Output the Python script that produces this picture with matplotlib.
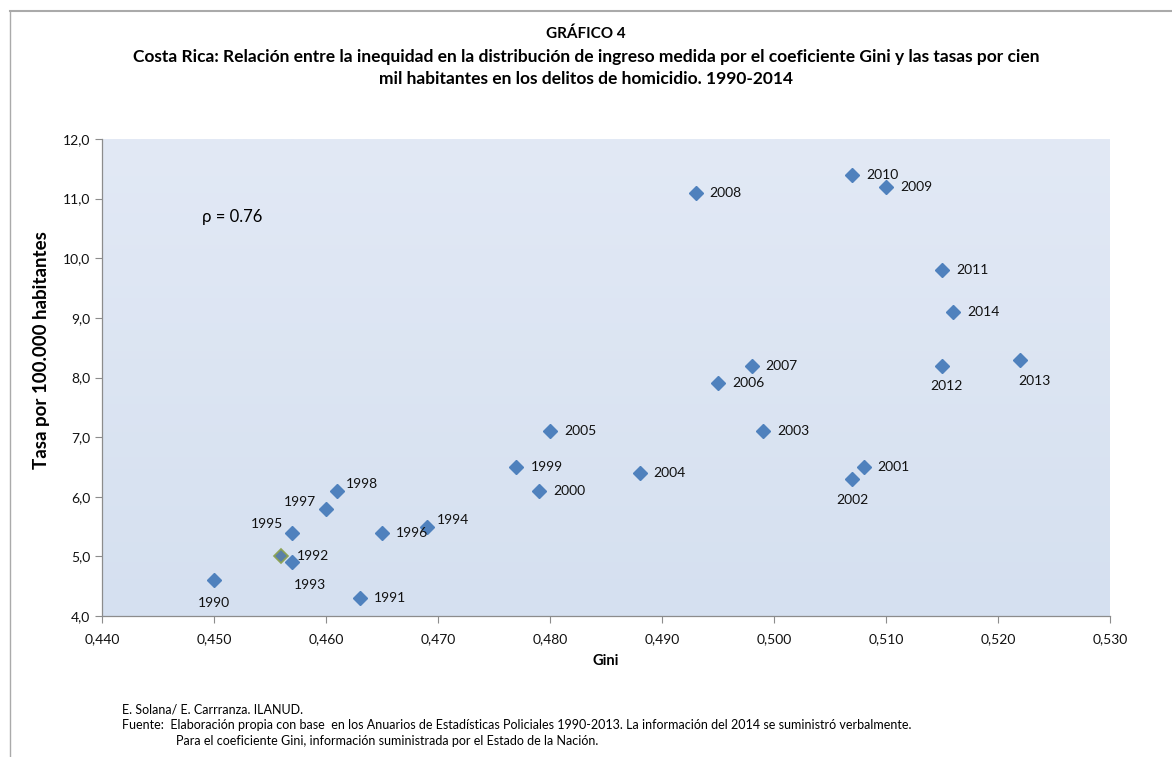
import numpy as np
import matplotlib
matplotlib.use("Agg")
from matplotlib import pyplot as plt
from matplotlib.lines import Line2D
from matplotlib.ticker import FuncFormatter, MultipleLocator

plt.rcParams['font.family'] = ['Lato', 'DejaVu Sans']

# datos: coeficiente Gini y tasa de homicidios por 100.000 hab.
years = [1990, 1991, 1992, 1993, 1994, 1995, 1996, 1997, 1998, 1999,
         2000, 2001, 2002, 2003, 2004, 2005, 2006, 2007, 2008, 2009,
         2010, 2011, 2012, 2013, 2014]
gini = [0.450, 0.463, 0.456, 0.457, 0.469, 0.457, 0.465, 0.460, 0.461, 0.477,
        0.479, 0.508, 0.507, 0.499, 0.488, 0.480, 0.495, 0.498, 0.493, 0.510,
        0.507, 0.515, 0.515, 0.522, 0.516]
tasa = [4.6, 4.3, 5.0, 4.9, 5.5, 5.4, 5.4, 5.8, 6.1, 6.5,
        6.1, 6.5, 6.3, 7.1, 6.4, 7.1, 7.9, 8.2, 11.1, 11.2,
        11.4, 9.8, 8.2, 8.3, 9.1]

# posicion de etiquetas (pixeles respecto al marcador)
label_pos = {
    1990: (0, -23, 'center'), 1993: (18, -23, 'center'), 1992: (16, 0, 'left'),
    1995: (-9, 9, 'right'), 1997: (-10, 7, 'right'), 1998: (9, 7, 'left'),
    1994: (10, 7, 'left'), 2002: (0, -21, 'center'), 2012: (4, -20, 'center'),
    2013: (14, -21, 'center'),
}

W, H = 1172, 757
fig = plt.figure(figsize=(W / 100, H / 100), dpi=100)
ax = fig.add_axes([102 / W, 1 - 616 / H, 1008 / W, 477 / H])

# fondo degradado del area de grafico
grad = np.linspace(0, 1, 256).reshape(-1, 1)
cmap = matplotlib.colors.LinearSegmentedColormap.from_list('bg', ['#D5E0F0', '#E2E9F5'])
ax.imshow(grad, extent=[0, 1, 0, 1], transform=ax.transAxes, cmap=cmap,
          aspect='auto', origin='lower', zorder=0)

for y, g, t in zip(years, gini, tasa):
    if y == 1992:
        ax.plot(g, t, 'D', ms=7.5, mfc='#5A7FA8', mec='#8CA356', mew=1.2, zorder=4)
    else:
        ax.plot(g, t, 'D', ms=7.5, color='#4F81BD', mec='#4F81BD', zorder=3)
    dx, dy, ha = label_pos.get(y, (14, 0, 'left'))
    ax.annotate(str(y), (g, t), xytext=(dx, dy), textcoords='offset pixels',
                ha=ha, va='center', fontsize=10, color='#111111', zorder=5)

ax.set_xlim(0.440, 0.530)
ax.set_ylim(4.0, 12.0)
ax.xaxis.set_major_locator(MultipleLocator(0.010))
ax.yaxis.set_major_locator(MultipleLocator(1.0))
ax.xaxis.set_major_formatter(FuncFormatter(lambda v, p: f"{v:.3f}".replace('.', ',')))
ax.yaxis.set_major_formatter(FuncFormatter(lambda v, p: f"{v:.1f}".replace('.', ',')))

for s in ['top', 'right']:
    ax.spines[s].set_visible(False)
for s in ['left', 'bottom']:
    ax.spines[s].set_color('#8C8C8C')
    ax.spines[s].set_linewidth(0.9)
ax.tick_params(axis='both', direction='out', length=5, color='#8C8C8C',
               labelsize=10, labelcolor='#111111')
ax.tick_params(axis='x', pad=7)

ax.set_xlabel('Gini', fontsize=10.5, fontweight='bold', va='center')
ax.xaxis.set_label_coords(0.5, -(661 - 616) / 477)
ax.set_ylabel('Tasa por 100.000 habitantes', fontsize=13.5, fontweight='bold', va='center')
ax.yaxis.set_label_coords(-(102 - 42) / 1008, (616 - 350) / 477)

ax.text(0.440 + 0.0089, 10.7, 'ρ = 0.76', fontsize=12, ha='left', va='center')

fig.text(0.5, 1 - 34 / H, 'GRÁFICO 4', ha='center', va='center',
         fontsize=11, fontweight='bold')
fig.text(0.5, 1 - 57 / H, 'Costa Rica: Relación entre la inequidad en la distribución de ingreso '
         'medida por el coeficiente Gini y las tasas por cien', ha='center', va='center',
         fontsize=12.5, fontweight='bold')
fig.text(0.5, 1 - 79 / H, 'mil habitantes en los delitos de homicidio. 1990-2014',
         ha='center', va='center', fontsize=12.5, fontweight='bold')

fx = 122 / W
fig.text(fx, 1 - 710 / H, 'E. Solana/ E. Carrranza. ILANUD.', fontsize=9, va='center')
fig.text(fx, 1 - 725 / H, 'Fuente:  Elaboración propia con base  en los Anuarios de '
         'Estadísticas Policiales 1990-2013. La información del 2014 se suministró verbalmente.',
         fontsize=9, va='center')
# sangria de la ultima linea, alineada un poco despues de "Elaboración"
probe = fig.text(fx, 0, 'Fuente:  ', fontsize=9)
fig.canvas.draw()
pw = probe.get_window_extent().width
probe.remove()
fig.text(fx + (pw + 6) / W, 1 - 741 / H, 'Para el coeficiente Gini, información suministrada por '
         'el Estado de la Nación.', fontsize=9, va='center')

# marco exterior
fig.add_artist(Line2D([10 / W, 1], [1 - 11 / H, 1 - 11 / H], color='#AAAAAA', lw=1.5))
fig.add_artist(Line2D([10 / W, 10 / W], [0, 1 - 11 / H], color='#AAAAAA', lw=1))

fig.savefig('out.png', dpi=100)
